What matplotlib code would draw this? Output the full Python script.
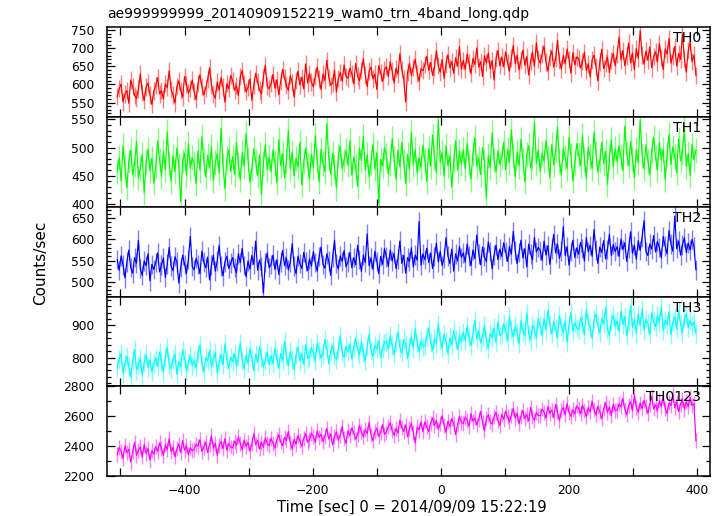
import numpy as np
import matplotlib
matplotlib.use("Agg")
import matplotlib.pyplot as plt
from matplotlib.ticker import MultipleLocator

plt.rcParams['font.family'] = ['DejaVu Sans']

title = "ae999999999_20140909152219_wam0_trn_4band_long.qdp"
xlabel = "Time [sec] 0 = 2014/09/09 15:22:19"
ylabel = "Counts/sec"

t_start = -505
t_bin = 3

th0 = [566, 589, 601, 552, 574, 583, 548, 612, 595, 570, 561, 587, 629, 578, 556, 593, 604, 571, 545, 582,
       597, 619, 574, 583, 560, 602, 591, 638, 586, 571, 549, 594, 610, 583, 565, 622, 600, 576, 589, 612,
       580, 558, 603, 627, 595, 571, 589, 614, 646, 598, 574, 562, 607, 585, 619, 593, 551, 602, 588, 625,
       611, 584, 597, 569, 622, 639, 603, 580, 592, 615, 556, 598, 631, 607, 585, 574, 620, 653, 596, 588,
       602, 628, 590, 613, 571, 609, 642, 618, 597, 583, 624, 606, 565, 611, 637, 599, 620, 588, 657, 604,
       631, 607, 593, 622, 648, 615, 586, 629, 611, 667, 620, 598, 604, 640, 579, 616, 633, 609, 654, 622,
       617, 645, 630, 602, 658, 623, 611, 639, 671, 626, 594, 637, 648, 615, 629, 586, 652, 633, 608, 641,
       649, 622, 663, 637, 604, 645, 628, 685, 641, 616, 552, 633, 658, 625, 647, 670, 631, 609, 644, 638,
       655, 678, 639, 661, 625, 648, 693, 652, 634, 669, 617, 657, 682, 646, 663, 631, 674, 650, 705, 642,
       667, 641, 684, 659, 630, 672, 655, 701, 648, 663, 622, 679, 660, 687, 643, 666, 612, 671, 694, 652,
       676, 649, 690, 661, 637, 673, 708, 658, 681, 640, 668, 695, 653, 677, 626, 664, 689, 650, 715, 670,
       659, 684, 706, 662, 637, 675, 693, 648, 671, 722, 666, 643, 680, 657, 698, 669, 631, 688, 654, 676,
       672, 645, 663, 689, 638, 657, 621, 668, 681, 650, 610, 662, 697, 644, 659, 675, 633, 666, 686, 652,
       683, 731, 668, 694, 652, 679, 715, 660, 687, 641, 699, 672, 748, 681, 656, 693, 667, 704, 646, 678,
       690, 662, 713, 675, 641, 698, 684, 727, 659, 679, 705, 651, 686, 669, 740, 672, 634, 694, 716, 663,
       681, 625]

th1 = [458, 482, 441, 503, 467, 429, 476, 495, 452, 470, 511, 446, 463, 488, 420, 474, 497, 459, 481, 437,
       466, 512, 478, 449, 493, 461, 528, 472, 440, 485, 457, 499, 468, 404, 476, 490, 451, 507, 463, 482,
       471, 436, 494, 460, 519, 477, 448, 486, 465, 502, 441, 473, 489, 455, 534, 469, 427, 480, 496, 458,
       484, 452, 509, 470, 443, 491, 467, 525, 479, 438, 462, 498, 475, 450, 487, 416, 471, 505, 461, 483,
       457, 496, 473, 437, 514, 468, 489, 446, 477, 530, 463, 492, 450, 481, 466, 509, 434, 475, 499, 470,
       445, 488, 465, 521, 476, 439, 497, 472, 458, 542, 481, 453, 490, 467, 428, 485, 503, 462, 478, 494,
       469, 512, 451, 483, 466, 431, 499, 477, 520, 460, 487, 448, 473, 506, 462, 491, 401, 479, 468, 500,
       486, 453, 472, 516, 480, 444, 495, 466, 509, 475, 436, 488, 461, 527, 470, 497, 455, 482, 465, 504,
       477, 440, 498, 467, 522, 482, 456, 549, 474, 491, 449, 503, 468, 485, 430, 476, 512, 460, 493, 471,
       496, 462, 507, 473, 444, 489, 518, 467, 481, 452, 500, 475, 410, 486, 465, 526, 478, 457, 494, 470,
       483, 509, 461, 497, 474, 531, 486, 448, 492, 467, 515, 479, 439, 488, 503, 464, 480, 545, 472, 496,
       458, 490, 476, 512, 483, 447, 505, 469, 494, 536, 477, 451, 499, 482, 463, 518, 486, 441, 473, 507,
       487, 468, 521, 479, 445, 500, 484, 463, 527, 490, 456, 476, 509, 471, 493, 435, 482, 514, 466, 498,
       475, 503, 484, 459, 538, 490, 468, 511, 480, 447, 496, 473, 549, 486, 462, 505, 477, 452, 494, 518,
       482, 461, 509, 478, 497, 443, 488, 523, 470, 501, 484, 455, 515, 476, 492, 532, 467, 489, 450, 506,
       478, 495]

th2 = [552, 527, 561, 540, 509, 546, 575, 533, 520, 557, 544, 598, 531, 515, 549, 538, 566, 502, 541, 529,
       545, 568, 523, 539, 556, 510, 542, 581, 537, 526, 559, 547, 497, 534, 563, 541, 520, 552, 607, 536,
       528, 555, 541, 519, 572, 546, 533, 558, 504, 539, 563, 525, 549, 586, 537, 514, 547, 560, 531, 544,
       557, 534, 521, 566, 545, 579, 538, 512, 549, 530, 562, 541, 596, 527, 551, 536, 473, 545, 568, 533,
       541, 563, 529, 552, 517, 547, 574, 538, 556, 528, 545, 590, 537, 519, 560, 543, 531, 569, 548, 526,
       554, 537, 571, 545, 525, 559, 582, 541, 532, 566, 549, 515, 557, 598, 543, 530, 561, 548, 574, 535,
       547, 569, 533, 557, 540, 586, 552, 524, 563, 545, 613, 538, 556, 529, 572, 548, 519, 560, 541, 578,
       558, 536, 575, 549, 567, 531, 554, 596, 543, 562, 520, 557, 548, 580, 535, 563, 551, 642, 539, 566,
       552, 579, 545, 568, 531, 560, 591, 547, 572, 538, 556, 604, 561, 543, 577, 525, 566, 549, 583, 557,
       568, 546, 589, 561, 538, 575, 555, 610, 566, 540, 582, 559, 547, 594, 571, 530, 563, 586, 552, 577,
       560, 592, 571, 548, 583, 565, 619, 574, 543, 569, 598, 556, 578, 535, 589, 566, 552, 605, 570, 581,
       574, 550, 596, 563, 585, 541, 577, 612, 568, 589, 555, 573, 630, 562, 583, 539, 571, 598, 557, 580,
       565, 593, 578, 549, 604, 571, 586, 560, 623, 575, 543, 582, 569, 597, 554, 576, 612, 562, 588, 571,
       583, 560, 601, 576, 592, 548, 579, 618, 567, 586, 553, 597, 574, 605, 644, 571, 562, 589, 577, 609,
       570, 595, 581, 556, 607, 584, 566, 621, 589, 572, 655, 578, 596, 563, 587, 604, 569, 591, 575, 600,
       583, 528]

th3 = [768, 795, 812, 751, 783, 804, 772, 739, 790, 826, 761, 777, 798, 745, 785, 809, 770, 793, 756, 781,
       799, 773, 818, 787, 754, 802, 831, 779, 765, 795, 810, 748, 788, 772, 823, 797, 760, 784, 806, 776,
       791, 768, 814, 839, 783, 757, 800, 789, 822, 771, 796, 815, 752, 786, 809, 778, 843, 794, 767, 801,
       788, 813, 774, 802, 846, 791, 765, 808, 783, 827, 797, 759, 811, 786, 834, 800, 771, 792, 817, 778,
       806, 782, 829, 798, 767, 813, 791, 850, 803, 775, 819, 794, 762, 808, 832, 789, 812, 780, 841, 797,
       804, 831, 816, 790, 845, 822, 799, 812, 857, 828, 781, 819, 838, 806, 793, 826, 869, 814, 801, 835,
       818, 842, 797, 830, 861, 825, 809, 848, 816, 790, 834, 873, 821, 804, 839, 827, 852, 799, 829, 845,
       851, 826, 869, 838, 810, 847, 880, 832, 815, 856, 842, 797, 836, 864, 829, 891, 845, 818, 853, 834,
       837, 866, 892, 848, 821, 859, 843, 905, 854, 830, 873, 851, 812, 862, 840, 884, 857, 826, 868, 849,
       879, 852, 898, 863, 838, 871, 917, 858, 884, 845, 866, 901, 853, 829, 876, 862, 893, 847, 911, 869,
       873, 906, 885, 852, 928, 889, 864, 897, 878, 843, 915, 882, 869, 938, 874, 856, 901, 887, 860, 922,
       899, 868, 921, 887, 946, 903, 874, 912, 891, 862, 930, 896, 879, 914, 848, 903, 940, 881, 908, 892,
       887, 925, 903, 872, 949, 911, 894, 860, 918, 936, 899, 877, 922, 905, 957, 890, 868, 913, 931, 897,
       914, 881, 944, 903, 927, 869, 908, 962, 893, 918, 876, 935, 901, 951, 885, 920, 906, 873, 939, 912,
       896, 931, 909, 958, 884, 917, 903, 942, 871, 912, 926, 889, 947, 905, 878, 921, 936, 893, 915, 899,
       910, 876]

th0123 = [2344, 2391, 2367, 2318, 2402, 2356, 2379, 2293, 2361, 2425, 2338, 2372, 2395, 2327, 2411, 2350, 2384, 2306, 2369, 2347,
          2397, 2365, 2421, 2384, 2339, 2408, 2376, 2450, 2361, 2392, 2327, 2383, 2414, 2356, 2437, 2372, 2401, 2343, 2390, 2368,
          2378, 2412, 2399, 2443, 2365, 2391, 2426, 2357, 2408, 2469, 2386, 2420, 2338, 2402, 2431, 2383, 2451, 2372, 2417, 2394,
          2388, 2432, 2405, 2461, 2419, 2374, 2440, 2398, 2425, 2366, 2414, 2483, 2409, 2437, 2381, 2426, 2392, 2455, 2417, 2403,
          2452, 2419, 2386, 2441, 2475, 2428, 2403, 2459, 2437, 2498, 2422, 2381, 2446, 2413, 2470, 2435, 2399, 2452, 2484, 2426,
          2441, 2487, 2463, 2425, 2502, 2458, 2479, 2431, 2466, 2519, 2447, 2482, 2408, 2463, 2495, 2439, 2472, 2531, 2454, 2418,
          2503, 2469, 2521, 2488, 2447, 2476, 2539, 2495, 2462, 2511, 2483, 2558, 2474, 2437, 2496, 2520, 2466, 2489, 2543, 2478,
          2494, 2531, 2556, 2502, 2473, 2519, 2487, 2574, 2526, 2498, 2541, 2463, 2515, 2552, 2489, 2420, 2528, 2507, 2561, 2496,
          2562, 2528, 2497, 2553, 2589, 2537, 2571, 2512, 2548, 2603, 2539, 2494, 2566, 2531, 2584, 2552, 2476, 2543, 2597, 2559,
          2551, 2594, 2573, 2532, 2617, 2566, 2588, 2541, 2579, 2632, 2558, 2503, 2584, 2609, 2563, 2547, 2595, 2626, 2571, 2538,
          2613, 2579, 2634, 2598, 2561, 2607, 2652, 2586, 2620, 2549, 2601, 2638, 2583, 2611, 2567, 2659, 2596, 2574, 2625, 2604,
          2603, 2648, 2626, 2587, 2664, 2619, 2641, 2592, 2679, 2628, 2571, 2635, 2657, 2610, 2686, 2624, 2598, 2643, 2615, 2669,
          2652, 2617, 2674, 2639, 2596, 2658, 2628, 2701, 2643, 2609, 2666, 2632, 2583, 2649, 2690, 2625, 2661, 2604, 2681, 2637,
          2641, 2683, 2662, 2718, 2647, 2609, 2671, 2695, 2638, 2740, 2659, 2626, 2688, 2651, 2706, 2667, 2620, 2679, 2733, 2648,
          2676, 2639, 2702, 2665, 2728, 2651, 2617, 2689, 2671, 2745, 2658, 2694, 2632, 2681, 2714, 2647, 2699, 2663, 2725, 2672,
          2684, 2435]

names = ["TH0", "TH1", "TH2", "TH3", "TH0123"]
series = [th0, th1, th2, th3, th0123]
errors = [24, 22, 23, 29, 50]
colors = ["#ff0000", "#00ff00", "#0000ff", "#00ffff", "#ff00ff"]
ylims = [(510, 758), (395, 554), (465, 677), (711, 990), (2200, 2800)]
ymajor = [50, 50, 50, 100, 200]
yminor = [10, 10, 10, 20, 100]

fig = plt.figure(figsize=(7.23, 5.16), dpi=100)
W, H = 723, 516
left_px, right_px = 107, 710
top_px, bot_px = 27.3, 476
ph = (bot_px - top_px) / 5

for k in range(5):
    y_top = top_px + k * ph
    ax = fig.add_axes([left_px / W, 1 - (y_top + ph) / H, (right_px - left_px) / W, ph / H])
    y = np.array(series[k], dtype=float)
    t = t_start + t_bin * np.arange(len(y))
    ax.errorbar(t, y, yerr=errors[k], fmt='none', ecolor=colors[k], alpha=0.5, elinewidth=1.0)
    ax.plot(t, y, color=colors[k], lw=0.85)
    ax.set_xlim(-521, 420)
    ax.set_ylim(*ylims[k])
    ax.xaxis.set_major_locator(MultipleLocator(200))
    ax.xaxis.set_minor_locator(MultipleLocator(100))
    ax.yaxis.set_major_locator(MultipleLocator(ymajor[k]))
    ax.yaxis.set_minor_locator(MultipleLocator(yminor[k]))
    ax.tick_params(which='both', direction='in', top=True, right=True, width=0.9, labelsize=8.8)
    ax.tick_params(axis='x', which='both', length=6, pad=5.5)
    ax.tick_params(axis='y', which='major', length=6, pad=9)
    ax.tick_params(axis='y', which='minor', length=3)
    if k < 4:
        ax.tick_params(axis='x', labelbottom=False)
    for s in ax.spines.values():
        s.set_linewidth(1.1)
    ax.text(0.985, 0.955, names[k], transform=ax.transAxes, ha='right', va='top', fontsize=10.2)

fig.text(107 / W, 1 - 14 / H, title, ha='left', va='center', fontsize=10)
fig.text(41 / W, 1 - 263 / H, ylabel, rotation=90, ha='center', va='center', fontsize=11)
fig.text(412 / W, 1 - 507 / H, xlabel, ha='center', va='center', fontsize=10.6)

fig.savefig("out.png", dpi=100)
